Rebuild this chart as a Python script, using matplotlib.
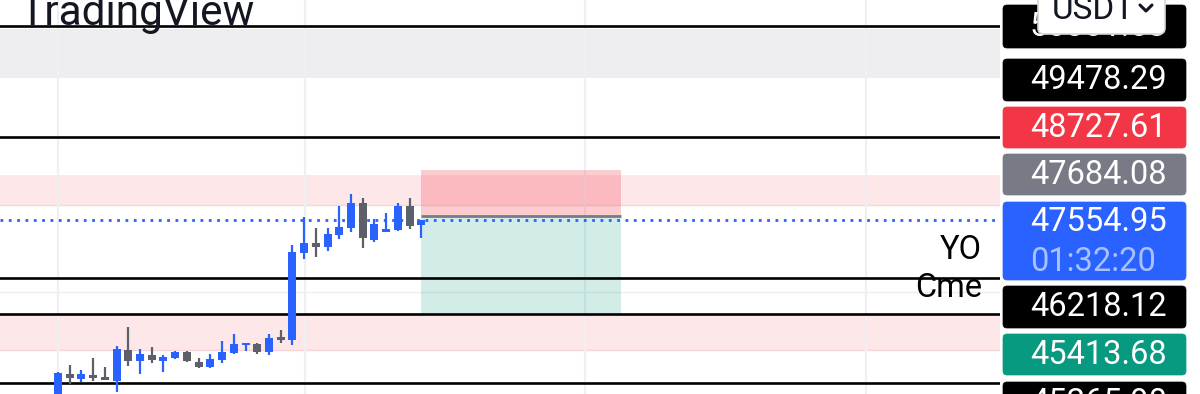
import matplotlib
matplotlib.use("Agg")
import matplotlib.pyplot as plt
from matplotlib.patches import FancyBboxPatch, Rectangle

plt.rcParams['font.family'] = ['Roboto', 'DejaVu Sans']

# --- dados das velas (preco) ---
opens = [44998, 45367, 45296, 45353, 45324, 45268, 45707, 45551, 45636, 45551,
         45594, 45679, 45537, 45466, 45566, 45665, 45778, 45792, 45679, 45892,
         45849, 47083, 47225, 47168, 47338, 47437, 47792, 47267, 47381, 47409,
         47749, 47480]
highs = [45395, 45495, 45424, 45594, 45466, 45764, 46033, 45721, 45750, 45636,
         45693, 45693, 45594, 45651, 45835, 45934, 45810, 45807, 45934, 45991,
         47196, 47593, 47437, 47437, 47749, 47919, 47863, 47565, 47650, 47792,
         47863, 47555]
lows = [44930, 45225, 45254, 45268, 45275, 45112, 45480, 45367, 45523, 45395,
        45580, 45537, 45452, 45452, 45523, 45651, 45693, 45651, 45636, 45807,
        45778, 46998, 47026, 47111, 47281, 47381, 47154, 47239, 47375, 47400,
        47423, 47296]
closes = [45381, 45310, 45367, 45310, 45282, 45721, 45551, 45651, 45566, 45608,
          45679, 45551, 45466, 45580, 45679, 45792, 45807, 45679, 45877, 45849,
          47097, 47225, 47168, 47352, 47451, 47792, 47296, 47494, 47423, 47749,
          47466, 47554.95]

# niveis horizontais desenhados
black_levels = [50301.6, 48727.61, 46728.2, 46218.12, 45239.3]
current_price = 47554.95
gray_zone = (49564, 50259)
pink_zones = [(47763, 48189), (45707, 46189)]
grid_x = [0, 21.08, 44.97, 68.94]

# caixa de posicao (short)
pos_start, pos_end = 31, 48
pos_stop, pos_entry, pos_target = 48260, 47610, 46230

# etiquetas do eixo de precos
axis_labels = ["50301.58", "49478.29", "48727.61", "47684.08", "47554.95",
               "46218.12", "45413.68", "45265.90"]
axis_colors = ["#000000", "#000000", "#F23645", "#787B86", "#2962FF",
               "#000000", "#089981", "#000000"]
countdown = "01:32:20"

UP = "#2962FF"
DOWN = "#5D606B"

fig = plt.figure(figsize=(12, 3.94), dpi=100)
ax = fig.add_axes([0, 0, 1000 / 1200, 1])
ax.set_xlim(-4.95, 80.38)
ax.set_ylim(45083.3, 50670.3)
ax.axis("off")

# faixas de fundo
ax.axhspan(gray_zone[0], gray_zone[1], color="#eeeef1", lw=0, zorder=0)
for lo, hi in pink_zones:
    ax.axhspan(lo, hi, color="#fde7e9", lw=0, zorder=0)
    ax.axhline(lo, color="#f6d6d9", lw=1, zorder=0.5)
ax.axhline(46529, color="#eeeeee", lw=1, zorder=0.5)

for gx in grid_x:
    ax.axvline(gx, color="#eef0f4", lw=1.6, zorder=0.6)

# caixa de posicao
ax.add_patch(Rectangle((pos_start, pos_entry), pos_end - pos_start, pos_stop - pos_entry,
                       facecolor="#f23645", alpha=0.25, lw=0, zorder=1))
ax.add_patch(Rectangle((pos_start, pos_target), pos_end - pos_start, pos_entry - pos_target,
                       facecolor="#089981", alpha=0.18, lw=0, zorder=1))
ax.hlines(pos_entry, pos_start, pos_end, color="#787B86", lw=2, zorder=1.5)

for lv in black_levels:
    ax.axhline(lv, color="black", lw=1.9, zorder=2)

ax.axhline(current_price, color=UP, lw=2, linestyle=(0, (1, 2)), zorder=2.5)

# velas
for i in range(len(opens)):
    o, h, l, c = opens[i], highs[i], lows[i], closes[i]
    col = UP if c >= o else DOWN
    ax.vlines(i, l, h, color=col, lw=1.6, zorder=3)
    bottom = min(o, c)
    height = max(abs(c - o), 25)
    ax.bar(i, height, bottom=bottom, width=0.68, color=col, lw=0, zorder=3.5)

ax.text(0.982, 1 - 250 / 394, "YO", transform=ax.transAxes, fontsize=23.5,
        ha="right", va="center", color="black", zorder=4)
ax.text(0.982, 1 - 288 / 394, "Cme", transform=ax.transAxes, fontsize=23.5,
        ha="right", va="center", color="black", zorder=4)

ax.text(20 / 1000, 1 - 25 / 394, "TradingView", transform=ax.transAxes, fontsize=30.5,
        ha="left", va="baseline", color="#131722", zorder=4)

# eixo de precos a direita (coordenadas em pixels)
rax = fig.add_axes([1000 / 1200, 0, 200 / 1200, 1])
rax.set_xlim(1000, 1200)
rax.set_ylim(394, 0)
rax.axis("off")

box_tops = [3, 57, 105, 152, 200, 284, 332, 380]
box_bottoms = [50, 103, 150, 197, 282, 330, 377, 427]
for txt, col, top, bot in zip(axis_labels, axis_colors, box_tops, box_bottoms):
    rax.add_patch(FancyBboxPatch((1003, top + 2), 183, bot - top - 4,
                                 boxstyle="round,pad=0,rounding_size=4",
                                 facecolor=col, edgecolor=col, lw=0.5))
    ty = top + 22 if txt == "47554.95" else (top + bot) / 2
    rax.text(1030, ty, txt, fontsize=23.5, color="white", ha="left", va="center")
rax.text(1030, 262, countdown, fontsize=23.5, color="#a9c1ff", ha="left", va="center")

# botao USDT
rax.add_patch(FancyBboxPatch((1038, -12), 127, 46,
                             boxstyle="round,pad=0,rounding_size=6",
                             facecolor="white", edgecolor="#d6d6d6", lw=1.2, zorder=5))
rax.text(1052, 10, "USDT", fontsize=24, color="#131722", ha="left", va="center", zorder=6)
rax.plot([1140, 1146, 1152], [5, 11, 5], color="#131722", lw=2.2, zorder=6,
         solid_capstyle="round")

fig.savefig("out.png", dpi=100)
